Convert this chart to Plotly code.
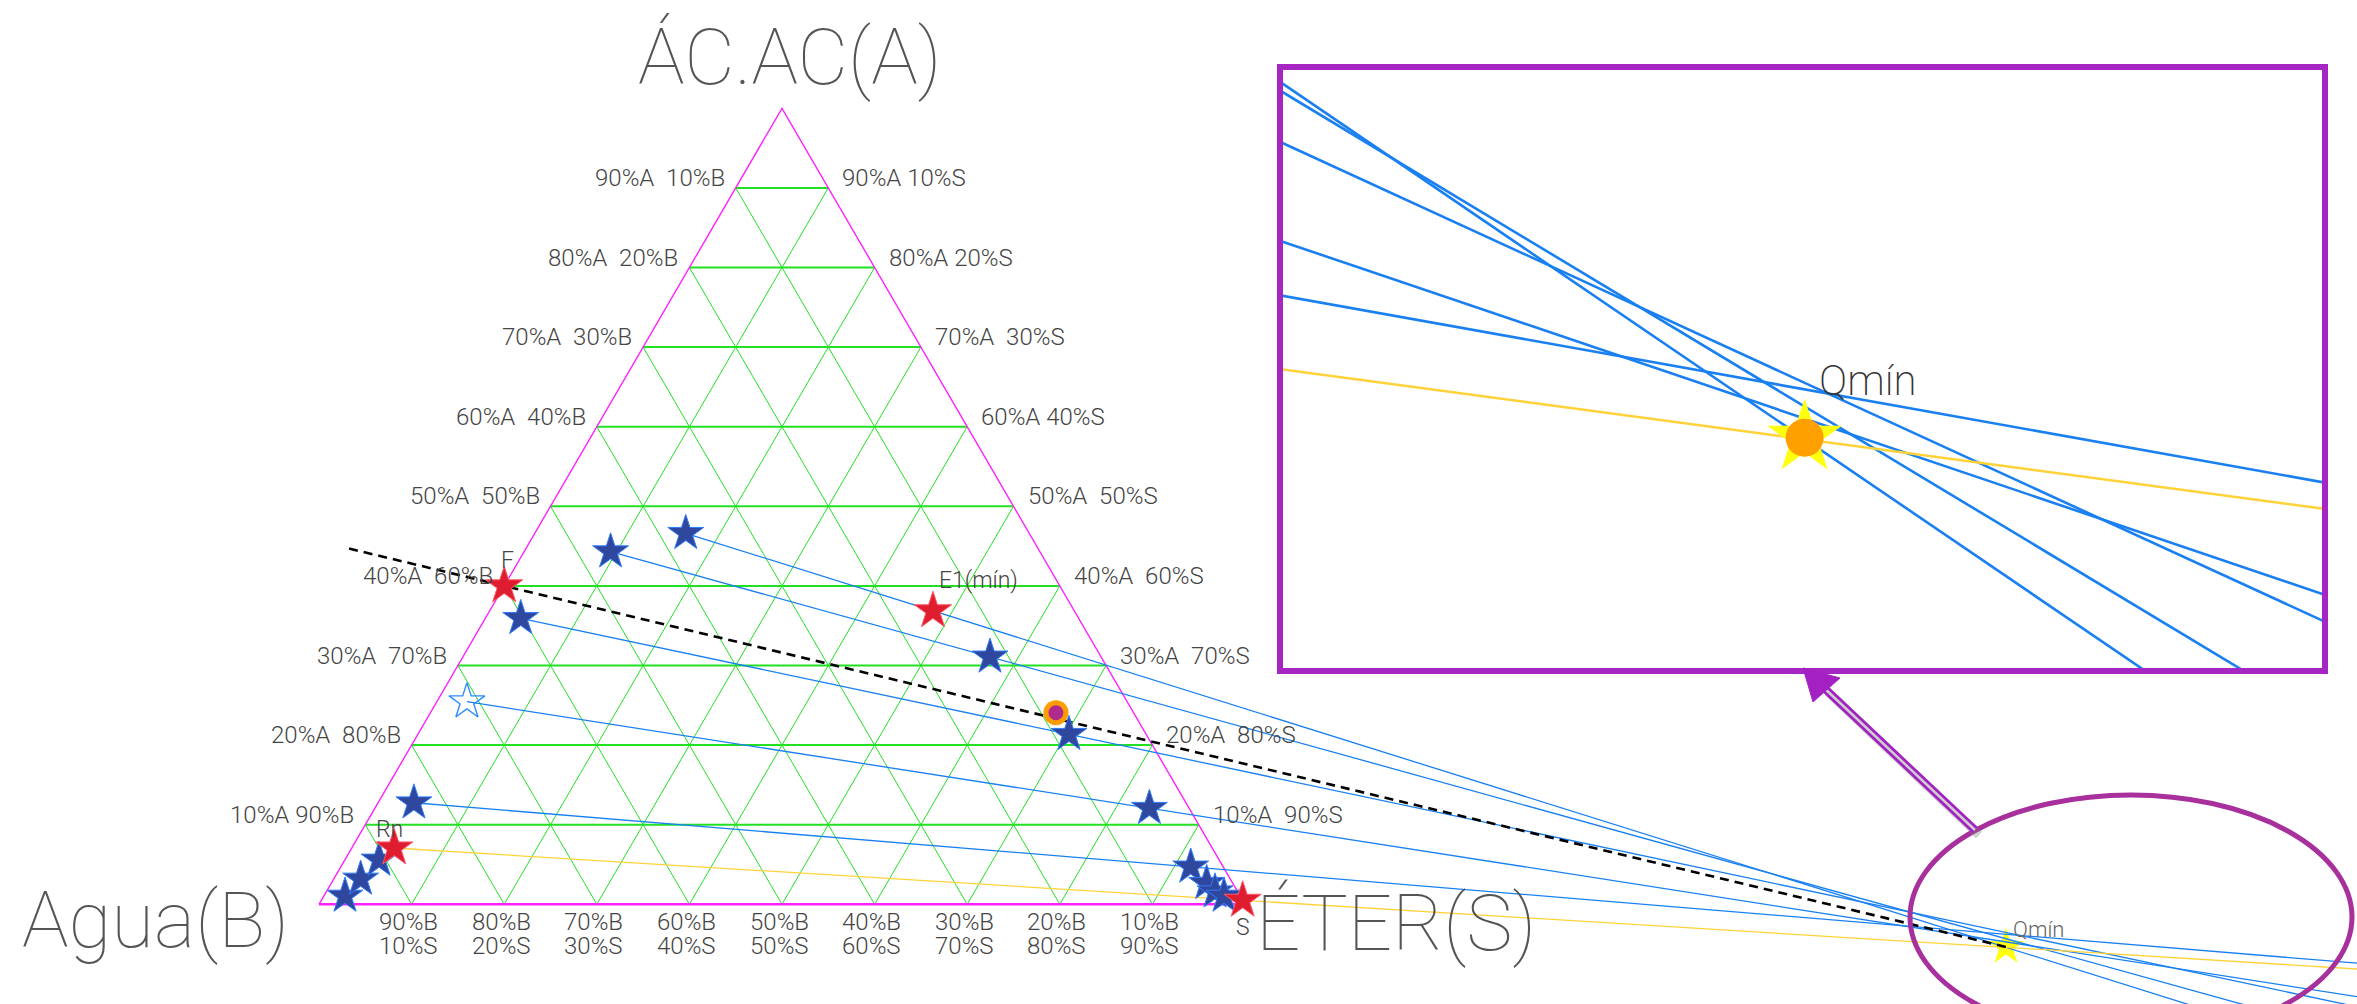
import plotly.graph_objects as go

FIG_W, FIG_H = 2357, 1004

# ---------------- data (mass fractions: A = ác. acético, B = agua, S = éter) ----------------
levels = [0.1, 0.2, 0.3, 0.4, 0.5, 0.6, 0.7, 0.8, 0.9]
NB = "\u00a0"
left_tick_labels = ["10%A 90%B", "20%A  80%B", "30%A  70%B", "40%A  60%B", "50%A  50%B",
                    "60%A  40%B", "70%A  30%B", "80%A  20%B", "90%A  10%B"]
right_tick_labels = ["10%A  90%S", "20%A  80%S", "30%A  70%S", "40%A  60%S", "50%A  50%S",
                     "60%A 40%S", "70%A  30%S", "80%A 20%S", "90%A 10%S"]
bottom_B_labels = ["90%B", "80%B", "70%B", "60%B", "50%B", "40%B", "30%B", "20%B", "10%B"]
bottom_S_labels = ["10%S", "20%S", "30%S", "40%S", "50%S", "60%S", "70%S", "80%S", "90%S"]

# tie lines: raffinate (start of each line) and extract points
raff_A = [0.4661, 0.4430, 0.3593, 0.2545, 0.1276]
raff_B = [0.3709, 0.4636, 0.6025, 0.7130, 0.8337]
raff_S = [0.1630, 0.0934, 0.0382, 0.0325, 0.0387]
ext_A = [0.3687, 0.3108, 0.2136, 0.1207, 0.0470]
ext_B = [0.1526, 0.1200, 0.0833, 0.0429, 0.0351]
ext_S = [0.4787, 0.5692, 0.7031, 0.8364, 0.9179]

# other points of the solubility curve
sol_A = [0.0104, 0.0318, 0.0557, 0.0264, 0.0158, 0.0104]
sol_B = [0.9667, 0.9391, 0.9073, 0.0282, 0.0245, 0.0175]
sol_S = [0.0229, 0.0291, 0.0370, 0.9454, 0.9597, 0.9721]

# named points
F_pt = (0.40, 0.60, 0.00)
Rn_pt = (0.0707, 0.8834, 0.0459)
S_pt = (0.005, 0.000, 0.995)
M_pt = (0.2407, 0.0838, 0.6755)
Q_pt = (-0.0536, -0.7950, 1.8486)
dash_start = (0.4469, 0.7441, -0.1910)

# ---------------- helpers ----------------
def xy(A, B, S):
    return S + A / 2.0, A

PX_X0, PX_UX, PX_Y0, PX_UY = 319.0, 926.0, 904.3, 796.0

def P(px, py):
    return (px - PX_X0) / PX_UX, (PX_Y0 - py) / PX_UY

def paper(px, py):
    return px / FIG_W, 1 - py / FIG_H

X_END = 2.4

def extend(p0, p1, x_end=X_END):
    t = (x_end - p0[0]) / (p1[0] - p0[0])
    return x_end, p0[1] + t * (p1[1] - p0[1])

FONT = "Roboto, DejaVu Sans, sans-serif"
TXT = "#454545"
GREEN = "#22e022"
MAGENTA = "#ff22ff"
BLUE = "#1a80f2"
YELLOW = "#ffd23a"

fig = go.Figure()

# ---------------- grid ----------------
gx, gy = [], []
hx, hy = [], []
for c in levels:
    p, q = xy(c, 1 - c, 0), xy(c, 0, 1 - c)
    hx += [p[0], q[0], None]; hy += [p[1], q[1], None]
    p, q = xy(0, 1 - c, c), xy(1 - c, 0, c)
    gx += [p[0], q[0], None]; gy += [p[1], q[1], None]
    p, q = xy(0, c, 1 - c), xy(1 - c, c, 0)
    gx += [p[0], q[0], None]; gy += [p[1], q[1], None]
fig.add_trace(go.Scatter(x=gx, y=gy, mode="lines", line=dict(color=GREEN, width=1), hoverinfo="skip"))
fig.add_trace(go.Scatter(x=hx, y=hy, mode="lines", line=dict(color=GREEN, width=2), hoverinfo="skip"))

tri = [xy(0, 1, 0), xy(1, 0, 0), xy(0, 0, 1)]
fig.add_trace(go.Scatter(x=[tri[0][0], tri[1][0], tri[2][0]], y=[tri[0][1], tri[1][1], tri[2][1]],
                         mode="lines", line=dict(color=MAGENTA, width=1.4), hoverinfo="skip"))
fig.add_trace(go.Scatter(x=[tri[0][0], tri[2][0]], y=[tri[0][1], tri[2][1]],
                         mode="lines", line=dict(color=MAGENTA, width=2.4), hoverinfo="skip"))

# ---------------- Q star (under the lines) ----------------
Qx, Qy = xy(*Q_pt)
fig.add_trace(go.Scatter(x=[Qx], y=[Qy], mode="markers",
                         marker=dict(symbol="star", size=28, color="#ffff10", line=dict(width=0)),
                         hoverinfo="skip"))

# ---------------- tie lines ----------------
def tie_lines(width, xaxis="x", yaxis="y"):
    lx, ly = [], []
    for i in range(len(raff_A)):
        r = xy(raff_A[i], raff_B[i], raff_S[i])
        e = xy(ext_A[i], ext_B[i], ext_S[i])
        end = extend(r, e)
        lx += [r[0], end[0], None]; ly += [r[1], end[1], None]
    fig.add_trace(go.Scatter(x=lx, y=ly, mode="lines", line=dict(color=BLUE, width=width),
                             xaxis=xaxis, yaxis=yaxis, hoverinfo="skip"))
    r = xy(*Rn_pt); s = xy(*S_pt); end = extend(r, s)
    fig.add_trace(go.Scatter(x=[r[0], end[0]], y=[r[1], end[1]], mode="lines",
                             line=dict(color=YELLOW, width=width), xaxis=xaxis, yaxis=yaxis,
                             hoverinfo="skip"))

tie_lines(1.3)

d0 = xy(*dash_start)
fig.add_trace(go.Scatter(x=[d0[0], Qx], y=[d0[1], Qy], mode="lines",
                         line=dict(color="black", width=2.6, dash="9px,6px"), hoverinfo="skip"))

# ---------------- markers ----------------
Mx, My = xy(*M_pt)
fig.add_trace(go.Scatter(x=[Mx], y=[My], mode="markers",
                         marker=dict(symbol="circle", size=25, color="#ff9c00", line=dict(width=0)),
                         hoverinfo="skip"))
fig.add_trace(go.Scatter(x=[Mx], y=[My], mode="markers",
                         marker=dict(symbol="circle", size=15, color="#b02a8e", line=dict(width=0)),
                         hoverinfo="skip"))

blue_idx = [0, 1, 2, 4]
bx = [xy(raff_A[i], raff_B[i], raff_S[i])[0] for i in blue_idx]
by = [xy(raff_A[i], raff_B[i], raff_S[i])[1] for i in blue_idx]
for i in range(1, len(ext_A)):
    p = xy(ext_A[i], ext_B[i], ext_S[i]); bx.append(p[0]); by.append(p[1])
for i in range(len(sol_A)):
    p = xy(sol_A[i], sol_B[i], sol_S[i]); bx.append(p[0]); by.append(p[1])
fig.add_trace(go.Scatter(x=bx, y=by, mode="markers",
                         marker=dict(symbol="star", size=27, color="#2f479c",
                                     line=dict(color="#2f7cff", width=1)), hoverinfo="skip"))
ho = xy(raff_A[3], raff_B[3], raff_S[3])
fig.add_trace(go.Scatter(x=[ho[0]], y=[ho[1]], mode="markers",
                         marker=dict(symbol="star-open", size=27, color="#2f8cff", line=dict(width=1.4)),
                         hoverinfo="skip"))
red_pts = [F_pt, (ext_A[0], ext_B[0], ext_S[0]), Rn_pt, S_pt]
rx = [xy(*p)[0] for p in red_pts]
ry = [xy(*p)[1] for p in red_pts]
fig.add_trace(go.Scatter(x=rx, y=ry, mode="markers",
                         marker=dict(symbol="star", size=28, color="#de1e30",
                                     line=dict(color="#ff5a66", width=1)), hoverinfo="skip"))

# ---------------- inset (zoom around Qmín) ----------------
tie_lines(2.6, "x2", "y2")
fig.add_trace(go.Scatter(x=[Qx], y=[Qy], mode="markers", xaxis="x2", yaxis="y2",
                         marker=dict(symbol="star", size=56, color="#ffff10", line=dict(width=0)),
                         hoverinfo="skip"))
fig.add_trace(go.Scatter(x=[Qx], y=[Qy], mode="markers", xaxis="x2", yaxis="y2",
                         marker=dict(symbol="circle", size=38, color="#ffa000", line=dict(width=0)),
                         hoverinfo="skip"))

IN_W, IN_H = 0.641, 0.1977
inset_xr = [Qx - 0.502 * IN_W, Qx + 0.498 * IN_W]
inset_yr = [Qy - 0.385 * IN_H, Qy + 0.615 * IN_H]

# ---------------- annotations ----------------
ann = []
def label(x, y, text, size=24, xanchor="center", yanchor="middle", xshift=0, yshift=0,
          color=TXT, xref="x", yref="y", weight=300):
    ann.append(dict(x=x, y=y, text=text, showarrow=False, xref=xref, yref=yref,
                    xanchor=xanchor, yanchor=yanchor, xshift=xshift, yshift=yshift,
                    font=dict(family=FONT, size=size, color=color, weight=weight)))

for c, lt, rt in zip(levels, left_tick_labels, right_tick_labels):
    p = xy(c, 1 - c, 0)
    label(p[0], p[1], lt.replace("  ", NB + NB), xanchor="right", xshift=-9, yshift=10)
    q = xy(c, 0, 1 - c)
    label(q[0], q[1], rt.replace("  ", NB + NB), xanchor="left", xshift=12, yshift=10)
for c, tb, ts in zip(levels, bottom_B_labels, bottom_S_labels):
    p = xy(0, 1 - c, c)
    label(p[0], p[1], tb, xshift=-3, yshift=-18)
    label(p[0], p[1], ts, xshift=-3, yshift=-42)

f = xy(*F_pt); label(f[0], f[1], "F", size=23, xshift=3, yshift=25)
e = xy(ext_A[0], ext_B[0], ext_S[0]); label(e[0], e[1], "E1(mín)", size=23, xshift=46, yshift=30)
r = xy(*Rn_pt); label(r[0], r[1], "Rn", size=23, xshift=-5, yshift=19)
s = xy(*S_pt); label(s[0], s[1], "S", size=23, yshift=-27)
label(Qx, Qy, "Qmín", size=22, xanchor="left", xshift=5, yshift=17, color="#666666")
label(Qx, Qy, "Qmín", size=42, xanchor="left", xshift=12, yshift=57, xref="x2", yref="y2",
      color="#333333", weight=200)

for (px, py, t) in [(790, 57, "ÁC.AC(A)"), (155, 920, "Agua(B)"), (1396, 923, "ÉTER(S)")]:
    x0, y0 = P(px, py)
    label(x0, y0, t, size=78, color="#555555", weight=100)

# ---------------- shapes: ellipse + arrow ----------------
shapes = []
ex0, ey0 = paper(1910, 1039); ex1, ey1 = paper(2352, 795)
shapes.append(dict(type="circle", xref="paper", yref="paper", x0=ex0, y0=ey0, x1=ex1, y1=ey1,
                   line=dict(color="#a8309c", width=5)))
a0 = paper(1979, 835); a1 = paper(1828, 692)
shapes.append(dict(type="line", xref="paper", yref="paper", x0=a0[0], y0=a0[1], x1=a1[0], y1=a1[1],
                   line=dict(color="rgba(120,120,120,0.35)", width=9)))
a0 = paper(1975, 830); a1 = paper(1822, 686)
shapes.append(dict(type="line", xref="paper", yref="paper", x0=a0[0], y0=a0[1], x1=a1[0], y1=a1[1],
                   line=dict(color="#a321c2", width=8)))
shapes.append(dict(type="line", xref="paper", yref="paper", x0=a0[0], y0=a0[1], x1=a1[0], y1=a1[1],
                   line=dict(color="#cfcfcf", width=2.5)))
h1, h2, h3 = paper(1803, 668), paper(1840, 678), paper(1813, 702)
shapes.append(dict(type="path", xref="paper", yref="paper",
                   path=f"M {h1[0]},{h1[1]} L {h2[0]},{h2[1]} L {h3[0]},{h3[1]} Z",
                   fillcolor="#a321c2", line=dict(color="#a321c2", width=1)))

ax_hidden = dict(visible=False, showgrid=False, zeroline=False)
fig.update_layout(
    width=FIG_W, height=FIG_H,
    margin=dict(l=0, r=0, t=0, b=0),
    paper_bgcolor="white", plot_bgcolor="white",
    showlegend=False, hovermode=False,
    xaxis=dict(range=[-PX_X0 / PX_UX, (FIG_W - PX_X0) / PX_UX], domain=[0, 1], **ax_hidden),
    yaxis=dict(range=[(PX_Y0 - FIG_H) / PX_UY, PX_Y0 / PX_UY], domain=[0, 1], **ax_hidden),
    xaxis2=dict(range=inset_xr, domain=[1283 / FIG_W, 2322 / FIG_W], anchor="y2",
                showline=True, mirror=True, linecolor="#a626c4", linewidth=6,
                showgrid=False, zeroline=False, showticklabels=False, ticks=""),
    yaxis2=dict(range=inset_yr, domain=[1 - 668 / FIG_H, 1 - 70 / FIG_H], anchor="x2",
                showline=True, mirror=True, linecolor="#a626c4", linewidth=6,
                showgrid=False, zeroline=False, showticklabels=False, ticks=""),
    annotations=ann, shapes=shapes,
)

fig.write_html("out.html")
